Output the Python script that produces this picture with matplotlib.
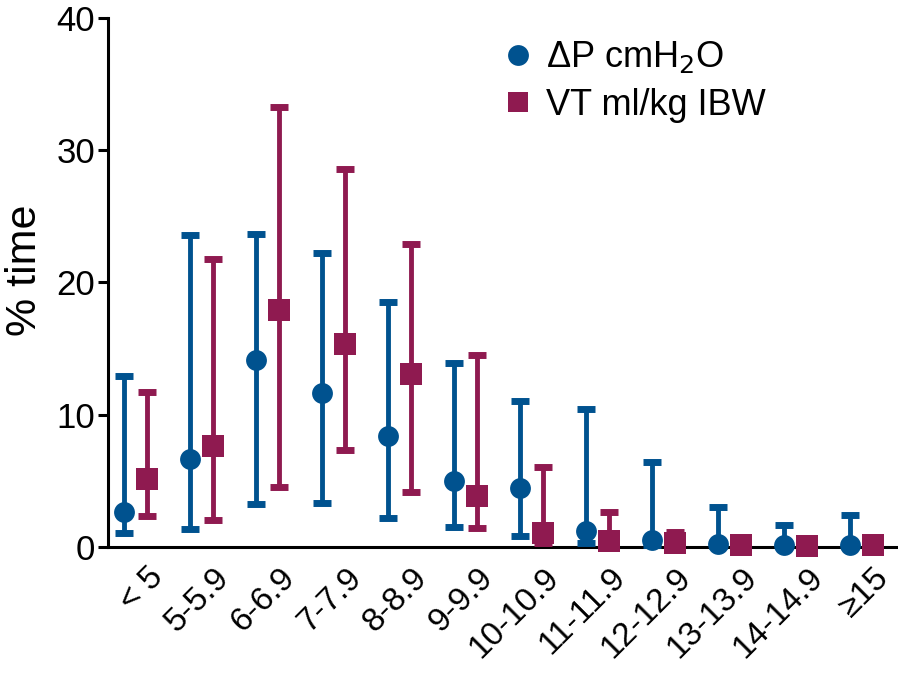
import matplotlib
matplotlib.use('Agg')
import matplotlib.pyplot as plt
import matplotlib.transforms as mtransforms
from matplotlib.lines import Line2D
import numpy as np

plt.rcParams['font.family'] = ['Liberation Sans', 'DejaVu Sans']

# Data (median with range, % of time)
categories = ['< 5', '5-5.9', '6-6.9', '7-7.9', '8-8.9', '9-9.9', '10-10.9',
              '11-11.9', '12-12.9', '13-13.9', '14-14.9', '≥15']

dp_mid = [2.65, 6.6, 14.1, 11.6, 8.4, 5.0, 4.4, 1.2, 0.5, 0.2, 0.15, 0.15]
dp_low = [1.0, 1.3, 3.2, 3.3, 2.2, 1.5, 0.8, 0.3, 0.1, 0.05, 0.05, 0.05]
dp_high = [12.95, 23.6, 23.7, 22.2, 18.5, 13.9, 11.0, 10.4, 6.4, 3.0, 1.6, 2.4]

vt_mid = [5.1, 7.6, 17.9, 15.3, 13.1, 3.8, 1.0, 0.4, 0.25, 0.1, 0.05, 0.1]
vt_low = [2.35, 2.0, 4.5, 7.3, 4.1, 1.4, 0.3, 0.1, 0.05, 0.0, 0.0, 0.0]
vt_high = [11.7, 21.8, 33.3, 28.6, 22.9, 14.5, 6.0, 2.6, 1.1, 0.3, 0.1, 0.2]

blue = '#00528F'
red = '#8F1A50'

fig = plt.figure(figsize=(8.98, 6.74), dpi=100)
ax = fig.add_axes([0.12, 0.189, 0.88, 0.784])

x = np.arange(len(categories))
off = 0.17

def draw(xpos, mid, low, high, color, marker, ms):
    mid = np.array(mid)
    yerr = [mid - np.array(low), np.array(high) - mid]
    eb = ax.errorbar(xpos, mid, yerr=yerr, fmt='none', ecolor=color,
                     elinewidth=3.5, capsize=6.5, capthick=5, zorder=3)
    for art in eb.lines[1]:
        art.set_clip_on(False)
    for art in eb.lines[2]:
        art.set_clip_on(False)
    ax.plot(xpos, mid, linestyle='none', marker=marker, markersize=ms,
            color=color, markeredgewidth=0, zorder=4, clip_on=False)

draw(x - off, dp_mid, dp_low, dp_high, blue, 'o', 15)
draw(x + off, vt_mid, vt_low, vt_high, red, 's', 15.5)

ax.set_ylim(0, 40)
ax.set_xlim(-0.42, 11.55)
ax.set_yticks([0, 10, 20, 30, 40])
ax.set_xticks(x)
ax.set_xticklabels(categories, rotation=45, ha='right', va='top',
                   rotation_mode='anchor', fontsize=24)
ax.tick_params(axis='x', length=0, pad=11)
# nudge rotated labels a little right, like the reference
shift = mtransforms.ScaledTranslation(0.12, 0, fig.dpi_scale_trans)
for lab in ax.get_xticklabels():
    lab.set_transform(lab.get_transform() + shift)
ax.tick_params(axis='y', length=7, width=2.2, labelsize=25, pad=2)
ax.set_ylabel('% time', fontsize=31)
ax.yaxis.set_label_coords(-0.08, 0.523)

ax.spines['top'].set_visible(False)
ax.spines['right'].set_visible(False)
ax.spines['left'].set_linewidth(2.2)
ax.spines['bottom'].set_linewidth(2.2)

handles = [
    Line2D([], [], linestyle='none', marker='o', markersize=15,
           color=blue, markeredgewidth=0),
    Line2D([], [], linestyle='none', marker='s', markersize=15,
           color=red, markeredgewidth=0),
]
fig.legend(handles, ['ΔP cmH$_2$O', 'VT ml/kg IBW'], loc='upper left',
           bbox_to_anchor=(0.52, 0.99), frameon=False, fontsize=26,
           handlelength=1.0, handletextpad=0.3, labelspacing=0.35)

fig.savefig('out.png', dpi=100)
